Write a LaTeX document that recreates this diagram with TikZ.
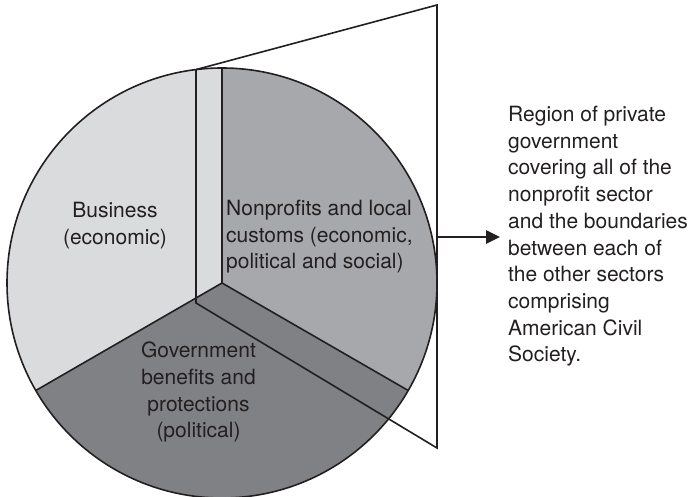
\documentclass[tikz,border=0pt]{standalone}
\usepackage{fontspec}
\setmainfont{TeX Gyre Heros}
\usetikzlibrary{arrows.meta}
\definecolor{bizgray}{HTML}{DADBDD}
\definecolor{npgray}{HTML}{A7A8AB}
\definecolor{govgray}{HTML}{808184}
\definecolor{ink}{HTML}{231F20}
\begin{document}
\begin{tikzpicture}[x=1pt,y=1pt,
  sectortext/.style={inner sep=0pt,text=ink,font=\fontsize{21}{26.7}\selectfont},
  edge/.style={draw=ink,line width=1.6pt}]
\useasboundingbox (0,0) rectangle (694,497);
\coordinate (C) at (222,214);
\fill [bizgray] (C) -- ++(90:215) arc [start angle=90, end angle=210, radius=215] -- cycle;
\fill [npgray] (C) -- ++(-30:215) arc [start angle=-30, end angle=90, radius=215] -- cycle;
\fill [govgray] (C) -- ++(210:215) arc [start angle=210, end angle=330, radius=215] -- cycle;
\draw [edge] (C) circle (215);
\draw [edge] (C) -- ++(90:215);
\draw [edge] (C) -- ++(210:215);
\draw [edge] (C) -- ++(-30:215);
% boundary band and its blow-up to the right
\coordinate (bandtop) at (196,427.4);
\coordinate (bandcorner) at (196,194);
\coordinate (fantop) at (437,492);
\coordinate (fanlow) at (437,49);
\draw [edge] (bandtop) -- (bandcorner) -- (fanlow) -- (fantop) -- (bandtop);
\coordinate (arstart) at (437,260);
\coordinate (arend) at (500,260);
\draw [draw=ink, line width=2.6pt, -{Triangle[length=14pt,width=13pt]}] (arstart) -- (arend);
\node [sectortext, anchor=north, align=center] (business) at (115,295) {Business\\(economic)};
\node [sectortext, anchor=north west, align=left] (nonprofit) at (226,297) {Nonprofits and local\\customs (economic,\\political and social)};
\node [sectortext, anchor=north, align=center] (government) at (198.5,155) {Government\\benefits and\\protections\\(political)};
\node [sectortext, anchor=north west, align=left] (note) at (508,391) {Region of private\\government\\covering all of the\\nonprofit sector\\and the boundaries\\between each of\\the other sectors\\comprising\\American Civil\\Society.};
\end{tikzpicture}
\end{document}
